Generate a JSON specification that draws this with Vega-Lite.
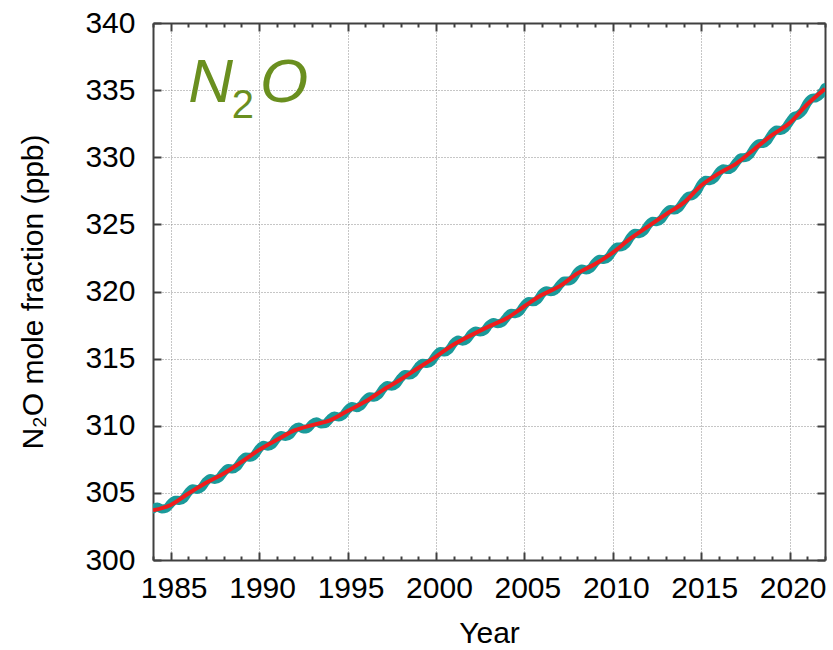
{
  "$schema": "https://vega.github.io/schema/vega-lite/v6.json",
  "autosize": {"type": "none"},
  "width": 672,
  "height": 537,
  "padding": {"left": 153, "top": 23, "right": 8, "bottom": 90},
  "background": "white",
  "config": {
    "view": {"stroke": null},
    "font": "Liberation Sans",
    "axis": {
      "labelFont": "Liberation Sans",
      "titleFont": "Liberation Sans",
      "labelFontSize": 30,
      "titleFontSize": 30,
      "labelColor": "#000000",
      "titleColor": "#000000",
      "titleFontWeight": "normal",
      "domainColor": "#404040",
      "domainWidth": 2,
      "tickColor": "#404040",
      "tickWidth": 2,
      "gridColor": "#8c8c8c",
      "gridDash": [1, 2],
      "gridWidth": 1
    }
  },
  "datasets": {
    "monthly": [
      {"year": 1984, "ppb": 303.80}, {"year": 1984.25, "ppb": 303.95}, {"year": 1984.5, "ppb": 303.80}, {"year": 1984.75, "ppb": 303.85},
      {"year": 1985, "ppb": 304.20}, {"year": 1985.25, "ppb": 304.46}, {"year": 1985.5, "ppb": 304.43}, {"year": 1985.75, "ppb": 304.59},
      {"year": 1986, "ppb": 305.05}, {"year": 1986.25, "ppb": 305.30}, {"year": 1986.5, "ppb": 305.25}, {"year": 1986.75, "ppb": 305.40},
      {"year": 1987, "ppb": 305.85}, {"year": 1987.25, "ppb": 306.08}, {"year": 1987.5, "ppb": 306.00}, {"year": 1987.75, "ppb": 306.13},
      {"year": 1988, "ppb": 306.55}, {"year": 1988.25, "ppb": 306.81}, {"year": 1988.5, "ppb": 306.78}, {"year": 1988.75, "ppb": 306.94},
      {"year": 1989, "ppb": 307.40}, {"year": 1989.25, "ppb": 307.68}, {"year": 1989.5, "ppb": 307.65}, {"year": 1989.75, "ppb": 307.83},
      {"year": 1990, "ppb": 308.30}, {"year": 1990.25, "ppb": 308.54}, {"year": 1990.5, "ppb": 308.48}, {"year": 1990.75, "ppb": 308.61},
      {"year": 1991, "ppb": 309.05}, {"year": 1991.25, "ppb": 309.28}, {"year": 1991.5, "ppb": 309.20}, {"year": 1991.75, "ppb": 309.33},
      {"year": 1992, "ppb": 309.75}, {"year": 1992.25, "ppb": 309.90}, {"year": 1992.5, "ppb": 309.75}, {"year": 1992.75, "ppb": 309.80},
      {"year": 1993, "ppb": 310.15}, {"year": 1993.25, "ppb": 310.29}, {"year": 1993.5, "ppb": 310.13}, {"year": 1993.75, "ppb": 310.16},
      {"year": 1994, "ppb": 310.50}, {"year": 1994.25, "ppb": 310.73}, {"year": 1994.5, "ppb": 310.65}, {"year": 1994.75, "ppb": 310.78},
      {"year": 1995, "ppb": 311.20}, {"year": 1995.25, "ppb": 311.43}, {"year": 1995.5, "ppb": 311.35}, {"year": 1995.75, "ppb": 311.48},
      {"year": 1996, "ppb": 311.90}, {"year": 1996.25, "ppb": 312.16}, {"year": 1996.5, "ppb": 312.13}, {"year": 1996.75, "ppb": 312.29},
      {"year": 1997, "ppb": 312.75}, {"year": 1997.25, "ppb": 313.00}, {"year": 1997.5, "ppb": 312.95}, {"year": 1997.75, "ppb": 313.10},
      {"year": 1998, "ppb": 313.55}, {"year": 1998.25, "ppb": 313.81}, {"year": 1998.5, "ppb": 313.78}, {"year": 1998.75, "ppb": 313.94},
      {"year": 1999, "ppb": 314.40}, {"year": 1999.25, "ppb": 314.66}, {"year": 1999.5, "ppb": 314.63}, {"year": 1999.75, "ppb": 314.79},
      {"year": 2000, "ppb": 315.25}, {"year": 2000.25, "ppb": 315.53}, {"year": 2000.5, "ppb": 315.50}, {"year": 2000.75, "ppb": 315.68},
      {"year": 2001, "ppb": 316.15}, {"year": 2001.25, "ppb": 316.38}, {"year": 2001.5, "ppb": 316.30}, {"year": 2001.75, "ppb": 316.43},
      {"year": 2002, "ppb": 316.85}, {"year": 2002.25, "ppb": 317.06}, {"year": 2002.5, "ppb": 316.98}, {"year": 2002.75, "ppb": 317.09},
      {"year": 2003, "ppb": 317.50}, {"year": 2003.25, "ppb": 317.70}, {"year": 2003.5, "ppb": 317.60}, {"year": 2003.75, "ppb": 317.70},
      {"year": 2004, "ppb": 318.10}, {"year": 2004.25, "ppb": 318.38}, {"year": 2004.5, "ppb": 318.35}, {"year": 2004.75, "ppb": 318.53},
      {"year": 2005, "ppb": 319.00}, {"year": 2005.25, "ppb": 319.26}, {"year": 2005.5, "ppb": 319.23}, {"year": 2005.75, "ppb": 319.39},
      {"year": 2006, "ppb": 319.85}, {"year": 2006.25, "ppb": 320.06}, {"year": 2006.5, "ppb": 319.98}, {"year": 2006.75, "ppb": 320.09},
      {"year": 2007, "ppb": 320.50}, {"year": 2007.25, "ppb": 320.79}, {"year": 2007.5, "ppb": 320.78}, {"year": 2007.75, "ppb": 320.96},
      {"year": 2008, "ppb": 321.45}, {"year": 2008.25, "ppb": 321.68}, {"year": 2008.5, "ppb": 321.60}, {"year": 2008.75, "ppb": 321.73},
      {"year": 2009, "ppb": 322.15}, {"year": 2009.25, "ppb": 322.41}, {"year": 2009.5, "ppb": 322.38}, {"year": 2009.75, "ppb": 322.54},
      {"year": 2010, "ppb": 323.00}, {"year": 2010.25, "ppb": 323.31}, {"year": 2010.5, "ppb": 323.33}, {"year": 2010.75, "ppb": 323.54},
      {"year": 2011, "ppb": 324.05}, {"year": 2011.25, "ppb": 324.33}, {"year": 2011.5, "ppb": 324.30}, {"year": 2011.75, "ppb": 324.48},
      {"year": 2012, "ppb": 324.95}, {"year": 2012.25, "ppb": 325.23}, {"year": 2012.5, "ppb": 325.20}, {"year": 2012.75, "ppb": 325.38},
      {"year": 2013, "ppb": 325.85}, {"year": 2013.25, "ppb": 326.11}, {"year": 2013.5, "ppb": 326.08}, {"year": 2013.75, "ppb": 326.24},
      {"year": 2014, "ppb": 326.70}, {"year": 2014.25, "ppb": 327.08}, {"year": 2014.5, "ppb": 327.15}, {"year": 2014.75, "ppb": 327.43},
      {"year": 2015, "ppb": 328.00}, {"year": 2015.25, "ppb": 328.28}, {"year": 2015.5, "ppb": 328.25}, {"year": 2015.75, "ppb": 328.43},
      {"year": 2016, "ppb": 328.90}, {"year": 2016.25, "ppb": 329.14}, {"year": 2016.5, "ppb": 329.08}, {"year": 2016.75, "ppb": 329.21},
      {"year": 2017, "ppb": 329.65}, {"year": 2017.25, "ppb": 329.96}, {"year": 2017.5, "ppb": 329.98}, {"year": 2017.75, "ppb": 330.19},
      {"year": 2018, "ppb": 330.70}, {"year": 2018.25, "ppb": 331.01}, {"year": 2018.5, "ppb": 331.03}, {"year": 2018.75, "ppb": 331.24},
      {"year": 2019, "ppb": 331.75}, {"year": 2019.25, "ppb": 332.03}, {"year": 2019.5, "ppb": 332.00}, {"year": 2019.75, "ppb": 332.18},
      {"year": 2020, "ppb": 332.65}, {"year": 2020.25, "ppb": 333.05}, {"year": 2020.5, "ppb": 333.15}, {"year": 2020.75, "ppb": 333.45},
      {"year": 2021, "ppb": 334.05}, {"year": 2021.25, "ppb": 334.39}, {"year": 2021.5, "ppb": 334.43}, {"year": 2021.75, "ppb": 334.66},
      {"year": 2022, "ppb": 335.20}
    ],
    "trend": [
      {"year": 1984, "ppb": 303.7}, {"year": 1985, "ppb": 304.1}, {"year": 1986, "ppb": 304.95}, {"year": 1987, "ppb": 305.75},
      {"year": 1988, "ppb": 306.45}, {"year": 1989, "ppb": 307.3}, {"year": 1990, "ppb": 308.2}, {"year": 1991, "ppb": 308.95},
      {"year": 1992, "ppb": 309.65}, {"year": 1993, "ppb": 310.05}, {"year": 1994, "ppb": 310.4}, {"year": 1995, "ppb": 311.1},
      {"year": 1996, "ppb": 311.8}, {"year": 1997, "ppb": 312.65}, {"year": 1998, "ppb": 313.45}, {"year": 1999, "ppb": 314.3},
      {"year": 2000, "ppb": 315.15}, {"year": 2001, "ppb": 316.05}, {"year": 2002, "ppb": 316.75}, {"year": 2003, "ppb": 317.4},
      {"year": 2004, "ppb": 318.0}, {"year": 2005, "ppb": 318.9}, {"year": 2006, "ppb": 319.75}, {"year": 2007, "ppb": 320.4},
      {"year": 2008, "ppb": 321.35}, {"year": 2009, "ppb": 322.05}, {"year": 2010, "ppb": 322.9}, {"year": 2011, "ppb": 323.95},
      {"year": 2012, "ppb": 324.85}, {"year": 2013, "ppb": 325.75}, {"year": 2014, "ppb": 326.6}, {"year": 2015, "ppb": 327.9},
      {"year": 2016, "ppb": 328.8}, {"year": 2017, "ppb": 329.55}, {"year": 2018, "ppb": 330.6}, {"year": 2019, "ppb": 331.65},
      {"year": 2020, "ppb": 332.55}, {"year": 2021, "ppb": 333.95}, {"year": 2022, "ppb": 335.1}
    ],
    "labelN": [{"label": "N"}],
    "label2": [{"label": "2"}],
    "labelO": [{"label": "O"}]
  },
  "resolve": {"axis": {"x": "independent", "y": "independent"}},
  "layer": [
    {
      "data": {"name": "monthly"},
      "mark": {"type": "line", "color": "#1a9a9a", "strokeWidth": 9, "strokeCap": "round", "strokeJoin": "round", "interpolate": "monotone", "clip": true},
      "encoding": {
        "x": {
          "field": "year", "type": "quantitative",
          "scale": {"domain": [1984, 2022], "nice": false, "zero": false},
          "axis": {
            "orient": "bottom", "title": "Year", "titlePadding": 11,
            "values": [1984,1985,1986,1987,1988,1989,1990,1991,1992,1993,1994,1995,1996,1997,1998,1999,2000,2001,2002,2003,2004,2005,2006,2007,2008,2009,2010,2011,2012,2013,2014,2015,2016,2017,2018,2019,2020,2021,2022],
            "format": "d",
            "labelExpr": "datum.value % 5 === 0 ? datum.label : ''",
            "labelPadding": 21,
            "labelOffset": 3,
            "labelFlush": false,
            "labelOverlap": false,
            "tickSize": {"condition": {"test": "datum.value % 5 === 0", "value": -8}, "value": -4},
            "grid": true,
            "gridOpacity": {"condition": {"test": "datum.value % 5 === 0", "value": 1}, "value": 0}
          }
        },
        "y": {
          "field": "ppb", "type": "quantitative",
          "scale": {"domain": [300, 340], "nice": false, "zero": false},
          "axis": {
            "orient": "left", "title": "N₂O mole fraction (ppb)", "titlePadding": 36,
            "values": [300, 305, 310, 315, 320, 325, 330, 335, 340],
            "labelPadding": 26, "tickSize": -8, "grid": true, "labelFlush": false
          }
        }
      }
    },
    {
      "data": {"name": "trend"},
      "mark": {"type": "line", "color": "#f01c1c", "strokeWidth": 4, "interpolate": "monotone", "clip": true},
      "encoding": {
        "x": {
          "field": "year", "type": "quantitative",
          "axis": {
            "orient": "top", "title": null, "labels": false, "grid": false,
            "values": [1984,1985,1986,1987,1988,1989,1990,1991,1992,1993,1994,1995,1996,1997,1998,1999,2000,2001,2002,2003,2004,2005,2006,2007,2008,2009,2010,2011,2012,2013,2014,2015,2016,2017,2018,2019,2020,2021,2022],
            "tickSize": {"condition": {"test": "datum.value % 5 === 0", "value": -8}, "value": -4}
          }
        },
        "y": {
          "field": "ppb", "type": "quantitative",
          "axis": {
            "orient": "right", "title": null, "labels": false, "grid": false,
            "values": [300, 305, 310, 315, 320, 325, 330, 335, 340],
            "tickSize": -8
          }
        }
      }
    },
    {
      "data": {"name": "labelN"},
      "mark": {"type": "text", "font": "Liberation Sans", "fontStyle": "italic", "fontSize": 62, "color": "#6a8f1f", "align": "left", "baseline": "alphabetic"},
      "encoding": {
        "text": {"field": "label"},
        "x": {"datum": 1986.0, "type": "quantitative", "axis": null},
        "y": {"datum": 334.15, "type": "quantitative", "axis": null}
      }
    },
    {
      "data": {"name": "label2"},
      "mark": {"type": "text", "font": "Liberation Sans", "fontSize": 40, "color": "#6a8f1f", "align": "left", "baseline": "alphabetic"},
      "encoding": {
        "text": {"field": "label"},
        "x": {"datum": 1988.45, "type": "quantitative", "axis": null},
        "y": {"datum": 332.9, "type": "quantitative", "axis": null}
      }
    },
    {
      "data": {"name": "labelO"},
      "mark": {"type": "text", "font": "Liberation Sans", "fontStyle": "italic", "fontSize": 62, "color": "#6a8f1f", "align": "left", "baseline": "alphabetic"},
      "encoding": {
        "text": {"field": "label"},
        "x": {"datum": 1990.05, "type": "quantitative", "axis": null},
        "y": {"datum": 334.15, "type": "quantitative", "axis": null}
      }
    }
  ]
}
